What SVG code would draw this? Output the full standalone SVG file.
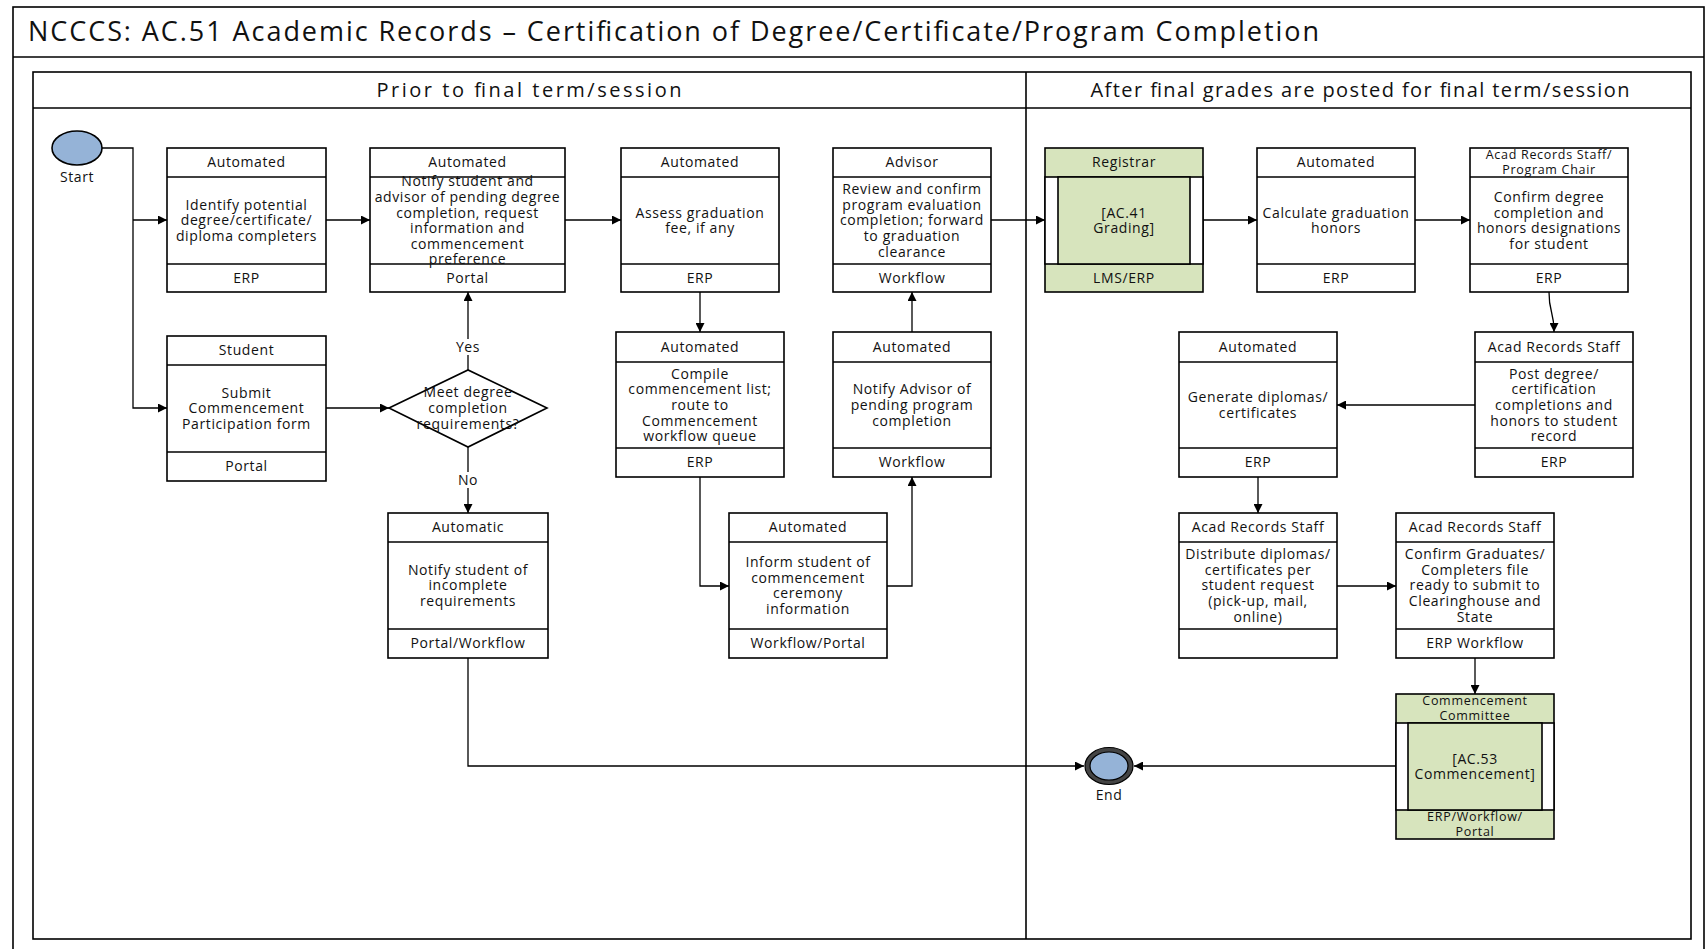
<svg xmlns="http://www.w3.org/2000/svg" width="1707" height="949" viewBox="0 0 1707 949">
  <style>
    .frame { fill: none; stroke: #000; stroke-width: 1.6; }
    .box { fill: #fff; stroke: #000; stroke-width: 1.6; }
    .green { fill: #d7e4bd; stroke: #000; stroke-width: 1.6; }
    .div { stroke: #000; stroke-width: 1.6; }
    .conn path { fill: none; stroke: #000; stroke-width: 1.3; }
    text { font-family: "Open Sans", "Noto Sans", sans-serif; fill: #111; }
    .t { font-size: 14px; letter-spacing: 0.6px; text-anchor: middle; }
    .t2 { font-size: 12.5px; letter-spacing: 0.7px; text-anchor: middle; }
    .lane { font-size: 20px; text-anchor: middle; }
    .title { font-size: 27px; }
    .lbl { fill: #fff; stroke: none; }
  </style>
  <defs>
    <marker id="arrow" viewBox="0 0 10 10" refX="10" refY="5" markerWidth="11" markerHeight="9" markerUnits="userSpaceOnUse" orient="auto">
      <path d="M0,0 L10,5 L0,10 z" fill="#000"/>
    </marker>
  </defs>

  <rect width="1707" height="949" fill="#fff"/>

  <!-- page frame and title -->
  <g id="page">
    <rect class="frame" x="13" y="7" width="1691" height="960"/>
    <line class="div" x1="13" y1="57" x2="1704" y2="57"/>
    <text class="title" x="28" y="41" textLength="1291" lengthAdjust="spacing">NCCCS: AC.51 Academic Records – Certification of Degree/Certificate/Program Completion</text>
  </g>

  <!-- pool with two phases -->
  <g id="pool">
    <rect class="frame" x="33" y="72" width="1658" height="867"/>
    <line class="div" x1="33" y1="108" x2="1691" y2="108"/>
    <line class="div" x1="1026" y1="72" x2="1026" y2="939"/>
    <text class="lane" x="529" y="97" textLength="305" lengthAdjust="spacing">Prior to final term/session</text>
    <text class="lane" x="1360" y="97" textLength="539" lengthAdjust="spacing">After final grades are posted for final term/session</text>
  </g>

  <!-- connectors -->
  <g id="connectors" class="conn">
    <path d="M102,148 H133 V408 H167" marker-end="url(#arrow)"/>
    <path d="M133,220 H167" marker-end="url(#arrow)"/>
    <path d="M326,220 H370" marker-end="url(#arrow)"/>
    <path d="M565,220 H621" marker-end="url(#arrow)"/>
    <path d="M700,292 V332" marker-end="url(#arrow)"/>
    <path d="M700,477 V586 H729" marker-end="url(#arrow)"/>
    <path d="M887,586 H912 V477" marker-end="url(#arrow)"/>
    <path d="M912,332 V292" marker-end="url(#arrow)"/>
    <path d="M991,220 H1045" marker-end="url(#arrow)"/>
    <path d="M1203,220 H1257" marker-end="url(#arrow)"/>
    <path d="M1415,220 H1470" marker-end="url(#arrow)"/>
    <path d="M1549,292 C1549,314 1554,310 1554,332" marker-end="url(#arrow)"/>
    <path d="M1475,405 H1337" marker-end="url(#arrow)"/>
    <path d="M1258,477 V513" marker-end="url(#arrow)"/>
    <path d="M1337,586 H1396" marker-end="url(#arrow)"/>
    <path d="M1475,658 V694" marker-end="url(#arrow)"/>
    <path d="M1396,766 H1134" marker-end="url(#arrow)"/>
    <path d="M468,658 V766 H1084" marker-end="url(#arrow)"/>
    <path d="M326,408 H389" marker-end="url(#arrow)"/>
    <path d="M468,370 V292" marker-end="url(#arrow)"/>
    <path d="M468,447 V513" marker-end="url(#arrow)"/>
    <rect class="lbl" x="452" y="339" width="32" height="16"/>
    <text class="t" x="468" y="351.5">Yes</text>
    <rect class="lbl" x="455" y="472" width="26" height="16"/>
    <text class="t" x="468" y="484.5">No</text>
  </g>

  <!-- start / end events -->
  <g id="start">
    <ellipse cx="77" cy="148" rx="25" ry="17" fill="#95b3d7" stroke="#000" stroke-width="1.6"/>
    <text class="t" x="77" y="182">Start</text>
  </g>
  <g id="end">
    <ellipse cx="1109" cy="766" rx="24" ry="18.5" fill="#444" stroke="#000" stroke-width="1.2"/>
    <ellipse cx="1109" cy="766" rx="19" ry="14" fill="#95b3d7" stroke="#000" stroke-width="1.2"/>
    <text class="t" x="1109" y="800">End</text>
  </g>

  <!-- row 1 -->
  <g id="identify-completers">
    <rect class="box" x="167" y="148" width="159" height="144"/>
    <line class="div" x1="167" y1="177" x2="326" y2="177"/>
    <line class="div" x1="167" y1="264" x2="326" y2="264"/>
    <text class="t" x="246.5" y="167.4">Automated</text>
    <text class="t" x="246.5" y="209.8">Identify potential<tspan x="246.5" dy="15.6">degree/certificate/</tspan><tspan x="246.5" dy="15.6">diploma completers</tspan></text>
    <text class="t" x="246.5" y="282.9">ERP</text>
  </g>
  <g id="notify-pending">
    <rect class="box" x="370" y="148" width="195" height="144"/>
    <line class="div" x1="370" y1="177" x2="565" y2="177"/>
    <line class="div" x1="370" y1="264" x2="565" y2="264"/>
    <text class="t" x="467.5" y="167.4">Automated</text>
    <text class="t" x="467.5" y="186.4">Notify student and<tspan x="467.5" dy="15.6">advisor of pending degree</tspan><tspan x="467.5" dy="15.6">completion, request</tspan><tspan x="467.5" dy="15.6">information and</tspan><tspan x="467.5" dy="15.6">commencement</tspan><tspan x="467.5" dy="15.6">preference</tspan></text>
    <text class="t" x="467.5" y="282.9">Portal</text>
  </g>
  <g id="assess-fee">
    <rect class="box" x="621" y="148" width="158" height="144"/>
    <line class="div" x1="621" y1="177" x2="779" y2="177"/>
    <line class="div" x1="621" y1="264" x2="779" y2="264"/>
    <text class="t" x="700" y="167.4">Automated</text>
    <text class="t" x="700" y="217.6">Assess graduation<tspan x="700" dy="15.6">fee, if any</tspan></text>
    <text class="t" x="700" y="282.9">ERP</text>
  </g>
  <g id="advisor-review">
    <rect class="box" x="833" y="148" width="158" height="144"/>
    <line class="div" x1="833" y1="177" x2="991" y2="177"/>
    <line class="div" x1="833" y1="264" x2="991" y2="264"/>
    <text class="t" x="912" y="167.4">Advisor</text>
    <text class="t" x="912" y="194.2">Review and confirm<tspan x="912" dy="15.6">program evaluation</tspan><tspan x="912" dy="15.6">completion; forward</tspan><tspan x="912" dy="15.6">to graduation</tspan><tspan x="912" dy="15.6">clearance</tspan></text>
    <text class="t" x="912" y="282.9">Workflow</text>
  </g>
  <g id="ac41-grading">
    <rect class="green" x="1045" y="148" width="158" height="144"/>
    <rect x="1045" y="177" width="158" height="87" fill="#fff" stroke="#000" stroke-width="1.6"/>
    <rect class="green" x="1058" y="177" width="132" height="87"/>
    <text class="t" x="1124" y="167.4">Registrar</text>
    <text class="t" x="1124" y="217.6">[AC.41<tspan x="1124" dy="15.6">Grading]</tspan></text>
    <text class="t" x="1124" y="282.9">LMS/ERP</text>
  </g>
  <g id="calc-honors">
    <rect class="box" x="1257" y="148" width="158" height="144"/>
    <line class="div" x1="1257" y1="177" x2="1415" y2="177"/>
    <line class="div" x1="1257" y1="264" x2="1415" y2="264"/>
    <text class="t" x="1336" y="167.4">Automated</text>
    <text class="t" x="1336" y="217.6">Calculate graduation<tspan x="1336" dy="15.6">honors</tspan></text>
    <text class="t" x="1336" y="282.9">ERP</text>
  </g>
  <g id="confirm-degree">
    <rect class="box" x="1470" y="148" width="158" height="144"/>
    <line class="div" x1="1470" y1="177" x2="1628" y2="177"/>
    <line class="div" x1="1470" y1="264" x2="1628" y2="264"/>
    <text class="t2" x="1549" y="159">Acad Records Staff/</text>
    <text class="t2" x="1549" y="174.3">Program Chair</text>
    <text class="t" x="1549" y="202">Confirm degree<tspan x="1549" dy="15.6">completion and</tspan><tspan x="1549" dy="15.6">honors designations</tspan><tspan x="1549" dy="15.6">for student</tspan></text>
    <text class="t" x="1549" y="282.9">ERP</text>
  </g>

  <!-- row 2 -->
  <g id="submit-form">
    <rect class="box" x="167" y="336" width="159" height="145"/>
    <line class="div" x1="167" y1="365" x2="326" y2="365"/>
    <line class="div" x1="167" y1="452" x2="326" y2="452"/>
    <text class="t" x="246.5" y="355.4">Student</text>
    <text class="t" x="246.5" y="397.8">Submit<tspan x="246.5" dy="15.6">Commencement</tspan><tspan x="246.5" dy="15.6">Participation form</tspan></text>
    <text class="t" x="246.5" y="471.4">Portal</text>
  </g>
  <g id="meet-requirements">
    <polygon points="389,408 468,370 547,408 468,447" fill="#fff" stroke="#000" stroke-width="1.6"/>
    <text class="t" x="468" y="397.3">Meet degree<tspan x="468" dy="15.6">completion</tspan><tspan x="468" dy="15.6">requirements?</tspan></text>
  </g>
  <g id="compile-list">
    <rect class="box" x="616" y="332" width="168" height="145"/>
    <line class="div" x1="616" y1="362" x2="784" y2="362"/>
    <line class="div" x1="616" y1="448" x2="784" y2="448"/>
    <text class="t" x="700" y="351.9">Automated</text>
    <text class="t" x="700" y="378.7">Compile<tspan x="700" dy="15.6">commencement list;</tspan><tspan x="700" dy="15.6">route to</tspan><tspan x="700" dy="15.6">Commencement</tspan><tspan x="700" dy="15.6">workflow queue</tspan></text>
    <text class="t" x="700" y="467.4">ERP</text>
  </g>
  <g id="notify-advisor">
    <rect class="box" x="833" y="332" width="158" height="145"/>
    <line class="div" x1="833" y1="362" x2="991" y2="362"/>
    <line class="div" x1="833" y1="448" x2="991" y2="448"/>
    <text class="t" x="912" y="351.9">Automated</text>
    <text class="t" x="912" y="394.3">Notify Advisor of<tspan x="912" dy="15.6">pending program</tspan><tspan x="912" dy="15.6">completion</tspan></text>
    <text class="t" x="912" y="467.4">Workflow</text>
  </g>
  <g id="generate-diplomas">
    <rect class="box" x="1179" y="332" width="158" height="145"/>
    <line class="div" x1="1179" y1="362" x2="1337" y2="362"/>
    <line class="div" x1="1179" y1="448" x2="1337" y2="448"/>
    <text class="t" x="1258" y="351.9">Automated</text>
    <text class="t" x="1258" y="402.1">Generate diplomas/<tspan x="1258" dy="15.6">certificates</tspan></text>
    <text class="t" x="1258" y="467.4">ERP</text>
  </g>
  <g id="post-degree">
    <rect class="box" x="1475" y="332" width="158" height="145"/>
    <line class="div" x1="1475" y1="362" x2="1633" y2="362"/>
    <line class="div" x1="1475" y1="448" x2="1633" y2="448"/>
    <text class="t" x="1554" y="351.9">Acad Records Staff</text>
    <text class="t" x="1554" y="378.7">Post degree/<tspan x="1554" dy="15.6">certification</tspan><tspan x="1554" dy="15.6">completions and</tspan><tspan x="1554" dy="15.6">honors to student</tspan><tspan x="1554" dy="15.6">record</tspan></text>
    <text class="t" x="1554" y="467.4">ERP</text>
  </g>

  <!-- row 3 -->
  <g id="notify-incomplete">
    <rect class="box" x="388" y="513" width="160" height="145"/>
    <line class="div" x1="388" y1="542" x2="548" y2="542"/>
    <line class="div" x1="388" y1="629" x2="548" y2="629"/>
    <text class="t" x="468" y="532.4">Automatic</text>
    <text class="t" x="468" y="574.8">Notify student of<tspan x="468" dy="15.6">incomplete</tspan><tspan x="468" dy="15.6">requirements</tspan></text>
    <text class="t" x="468" y="648.4">Portal/Workflow</text>
  </g>
  <g id="inform-ceremony">
    <rect class="box" x="729" y="513" width="158" height="145"/>
    <line class="div" x1="729" y1="542" x2="887" y2="542"/>
    <line class="div" x1="729" y1="629" x2="887" y2="629"/>
    <text class="t" x="808" y="532.4">Automated</text>
    <text class="t" x="808" y="567">Inform student of<tspan x="808" dy="15.6">commencement</tspan><tspan x="808" dy="15.6">ceremony</tspan><tspan x="808" dy="15.6">information</tspan></text>
    <text class="t" x="808" y="648.4">Workflow/Portal</text>
  </g>
  <g id="distribute-diplomas">
    <rect class="box" x="1179" y="513" width="158" height="145"/>
    <line class="div" x1="1179" y1="542" x2="1337" y2="542"/>
    <line class="div" x1="1179" y1="629" x2="1337" y2="629"/>
    <text class="t" x="1258" y="532.4">Acad Records Staff</text>
    <text class="t" x="1258" y="559.2">Distribute diplomas/<tspan x="1258" dy="15.6">certificates per</tspan><tspan x="1258" dy="15.6">student request</tspan><tspan x="1258" dy="15.6">(pick-up, mail,</tspan><tspan x="1258" dy="15.6">online)</tspan></text>
  </g>
  <g id="confirm-file">
    <rect class="box" x="1396" y="513" width="158" height="145"/>
    <line class="div" x1="1396" y1="542" x2="1554" y2="542"/>
    <line class="div" x1="1396" y1="629" x2="1554" y2="629"/>
    <text class="t" x="1475" y="532.4">Acad Records Staff</text>
    <text class="t" x="1475" y="559.2">Confirm Graduates/<tspan x="1475" dy="15.6">Completers file</tspan><tspan x="1475" dy="15.6">ready to submit to</tspan><tspan x="1475" dy="15.6">Clearinghouse and</tspan><tspan x="1475" dy="15.6">State</tspan></text>
    <text class="t" x="1475" y="648.4">ERP Workflow</text>
  </g>

  <!-- row 4 -->
  <g id="ac53-commencement">
    <rect class="green" x="1396" y="694" width="158" height="145"/>
    <rect x="1396" y="723" width="158" height="87" fill="#fff" stroke="#000" stroke-width="1.6"/>
    <rect class="green" x="1408" y="723" width="134" height="87"/>
    <text class="t2" x="1475" y="705.2">Commencement</text>
    <text class="t2" x="1475" y="720.4">Committee</text>
    <text class="t" x="1475" y="763.6">[AC.53<tspan x="1475" dy="15.6">Commencement]</tspan></text>
    <text class="t2" x="1475" y="821">ERP/Workflow/</text>
    <text class="t2" x="1475" y="836.2">Portal</text>
  </g>
</svg>
